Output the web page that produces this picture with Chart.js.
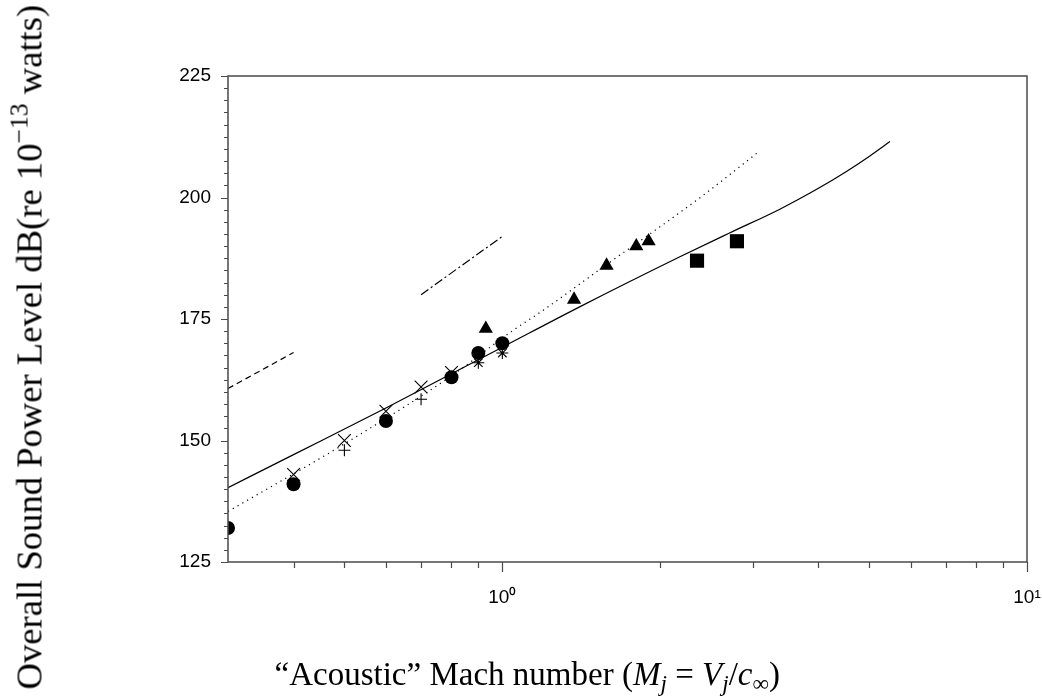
<!DOCTYPE html>
<html>
<head>
<meta charset="utf-8">
<script src="https://cdn.jsdelivr.net/npm/chart.js@4/dist/chart.umd.min.js"></script>
<style>
  body { margin: 0; background: #fff; }
  #wrap { position: relative; width: 1042px; height: 698px; }
  canvas { position: absolute; left: 0; top: 0; }
  .ttl { position: absolute; font-family: "Liberation Serif", "DejaVu Serif", serif; font-size: 24px; color: #000; white-space: nowrap; line-height: 1; }
  .ttl i { font-style: italic; }
  .ttl sub { font-size: 0.7em; vertical-align: -0.25em; line-height: 0; }
  .ttl sup { font-size: 0.7em; vertical-align: 0.55em; line-height: 0; }
  #xTitle { left: 0; top: 658px; }
  #yTitle { left: 0; top: 0; transform-origin: 0 0; }
</style>
</head>
<body>
<div id="wrap">
  <canvas id="chart" width="1042" height="698"></canvas>
  <div class="ttl" id="xTitle">&ldquo;Acoustic&rdquo; Mach number (<i>M<sub>j</sub></i> = <i>V<sub>j</sub></i>/<i>c</i><sub>&infin;</sub>)</div>
  <div class="ttl" id="yTitle">Overall Sound Power Level dB(re 10<sup>&minus;13</sup> watts)</div>
</div>
<script>
// измерения (точки)
const circleX = [0.3, 0.4, 0.6, 0.8, 0.9, 1.0];
const circleY = [132, 141, 154, 163, 168, 170];
const crossX = [0.4, 0.5, 0.6, 0.7, 0.8];
const crossY = [143, 150, 156, 161, 164];
const plusX = [0.5, 0.7];
const plusY = [148, 158.5];
const starX = [0.9, 1.0];
const starY = [166, 168];
const triX = [0.93, 1.37, 1.58, 1.8, 1.9];
const triY = [173, 179, 186, 190, 191];
const squareX = [2.35, 2.8];
const squareY = [187, 191];

// кривые
const solidX = [0.3, 0.4, 0.6, 1.0, 1.41, 2.18, 2.71, 3.38, 4.02, 4.52, 5.01, 5.48];
const solidY = [140.3, 147.1, 156.7, 169.2, 177.6, 187.8, 192.7, 197.6, 202.0, 205.3, 208.5, 211.5];
const dottedX = [0.3, 0.5, 0.8, 1.04, 1.2, 1.58, 2.35, 3.08];
const dottedY = [135.4, 149.3, 163.3, 172.4, 176.9, 186.2, 199.5, 209.4];
const dashedX = [0.3, 0.4];
const dashedY = [160.7, 168.1];
const dashDotX = [0.7, 1.0];
const dashDotY = [180, 192];

// оси
const xTickValues = [0.4, 0.5, 0.6, 0.7, 0.8, 0.9, 1, 2, 3, 4, 5, 6, 7, 8, 9, 10];
const xMajorValues = [1, 10];
const xMajorLabels = ['10\u2070', '10\u00b9'];
const yMajorValues = [125, 150, 175, 200, 225];
const yMinorStep = 2.5;

function pts(xs, ys) {
    return xs.map((x, i) => ({ x: x, y: ys[i] }));
}

function markers(xs, ys, style, radius, width) {
    return {
        data: pts(xs, ys),
        showLine: false,
        pointStyle: style,
        pointRadius: radius,
        pointHoverRadius: radius,
        pointBackgroundColor: '#000',
        pointBorderColor: '#000',
        pointBorderWidth: width,
    };
}

function curve(xs, ys, dash) {
    return {
        data: pts(xs, ys),
        showLine: true,
        borderColor: '#000',
        borderWidth: 1.2,
        borderDash: dash,
        pointRadius: 0,
        pointHoverRadius: 0,
        fill: false,
        cubicInterpolationMode: 'monotone',
    };
}

// рамка и засечки
const framePlugin = {
    id: 'frame',
    afterDraw(chart) {
        const c = chart.ctx;
        const a = chart.chartArea;
        const xs = chart.scales.x;
        const ys = chart.scales.y;
        c.save();
        c.strokeStyle = '#4a4a4a';
        c.lineWidth = 1.5;
        c.strokeRect(a.left, a.top, a.right - a.left, a.bottom - a.top);
        c.lineWidth = 1.2;
        c.beginPath();
        xTickValues.forEach(v => {
            const px = Math.round(xs.getPixelForValue(v)) + 0.5;
            const len = xMajorValues.includes(v) ? 10 : 6;
            c.moveTo(px, a.bottom);
            c.lineTo(px, a.bottom + len);
        });
        for (let v = ys.min; v <= ys.max + 0.001; v += yMinorStep) {
            const py = Math.round(ys.getPixelForValue(v)) + 0.5;
            const len = yMajorValues.includes(v) ? 7 : 4;
            c.moveTo(a.left, py);
            c.lineTo(a.left - len, py);
        }
        c.stroke();
        c.restore();
    }
};

const circles = markers(circleX, circleY, 'circle', 7, 0);
circles.clip = 0;

new Chart(document.getElementById('chart'), {
    type: 'scatter',
    data: {
        datasets: [
            circles,
            markers(triX, triY, 'triangle', 8.2, 0),
            markers(squareX, squareY, 'rect', 10, 0),
            markers(starX, starY, 'star', 6, 1.1),
            markers(crossX, crossY, 'crossRot', 9, 1.1),
            markers(plusX, plusY, 'cross', 6, 1.1),
            curve(solidX, solidY, []),
            curve(dottedX, dottedY, [1.2, 4.3]),
            curve(dashedX, dashedY, [6, 4]),
            curve(dashDotX, dashDotY, [9, 3, 2, 3]),
        ]
    },
    options: {
        responsive: false,
        animation: false,
        events: [],
        layout: {
            padding: { top: 76, right: 15, left: 0, bottom: 0 }
        },
        plugins: {
            legend: { display: false },
            tooltip: { enabled: false },
        },
        scales: {
            x: {
                type: 'logarithmic',
                min: 0.3,
                max: 10,
                border: { display: false },
                grid: { display: false, drawTicks: true, tickLength: 10 },
                afterBuildTicks: scale => {
                    scale.ticks = xTickValues.map(v => ({ value: v, major: xMajorValues.includes(v) }));
                },
                afterFit: scale => {
                    scale.height = 136;
                    scale.paddingLeft = 0;
                    scale.paddingRight = 0;
                },
                ticks: {
                    autoSkip: false,
                    maxRotation: 0,
                    padding: 14,
                    color: '#000',
                    font: { family: 'Liberation Sans, Arial, sans-serif', size: 19 },
                    callback: v => {
                        const i = xMajorValues.indexOf(v);
                        return i >= 0 ? xMajorLabels[i] : '';
                    }
                }
            },
            y: {
                min: 125,
                max: 225,
                border: { display: false },
                grid: { display: false, drawTicks: true, tickLength: 7 },
                afterFit: scale => { scale.width = 228; },
                ticks: {
                    stepSize: 25,
                    padding: 10,
                    color: '#000',
                    font: { family: 'Liberation Sans, Arial, sans-serif', size: 19 },
                }
            }
        }
    },
    plugins: [framePlugin]
});

// подписи осей: подгонка размера шрифта по длине
function fit(el, target) {
    const fs = parseFloat(getComputedStyle(el).fontSize);
    el.style.fontSize = (fs * target / el.offsetWidth) + 'px';
}
const xt = document.getElementById('xTitle');
fit(xt, 505);
xt.style.left = (527 - xt.offsetWidth / 2) + 'px';

const yt = document.getElementById('yTitle');
fit(yt, 685);
yt.style.transform = 'translate(' + (30 - yt.offsetHeight / 2) + 'px,' + (347 + yt.offsetWidth / 2) + 'px) rotate(-90deg)';
</script>
</body>
</html>
